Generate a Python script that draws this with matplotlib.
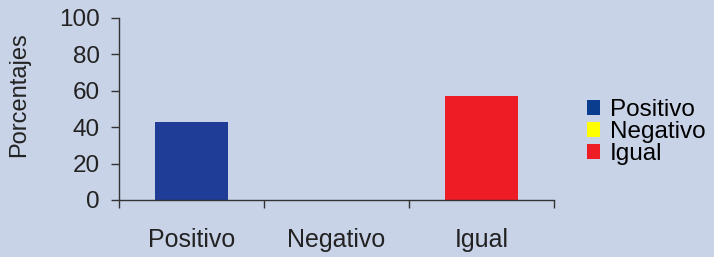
import matplotlib.pyplot as plt
from matplotlib.patches import Patch

# Datos
categorias = ['Positivo', 'Negativo', 'Igual']
valores = [42.9, 0.0, 57.1]
colores = ['#1f3c96', '#ffff00', '#ee1c25']
colores_leyenda = ['#0b3d8f', '#ffff00', '#ee1c25']
yticks = [0, 20, 40, 60, 80, 100]

fondo = '#c9d3e7'
plt.rcParams['font.family'] = ['Liberation Sans', 'DejaVu Sans']

fig = plt.figure(figsize=(7.14, 2.57), dpi=100, facecolor=fondo)
ax = fig.add_axes([0.1667, 0.222, 0.609, 0.708], facecolor=fondo)

x = list(range(len(categorias)))
ax.bar(x, valores, width=0.5, color=colores)

ax.set_xlim(-0.5, len(categorias) - 0.5)
ax.set_ylim(0, 100)
ax.set_yticks(yticks)

# ticks en los límites de categoría, etiquetas en el centro
ax.set_xticks([i - 0.5 for i in range(len(categorias) + 1)])
ax.set_xticklabels([])
ax.set_xticks(x, minor=True)
ax.set_xticklabels(categorias, minor=True)
ax.tick_params(axis='x', which='minor', length=0, pad=20, labelsize=18, labelcolor='#222222')
ax.tick_params(axis='x', which='major', length=6, width=1, color='#333333')
ax.tick_params(axis='y', length=6, width=1, color='#333333', labelsize=17.5, labelcolor='#222222', pad=8)

ax.set_ylabel('Porcentajes', fontsize=17, color='#222222')
ax.yaxis.set_label_coords(-0.205, 0.577)

for lado in ['top', 'right']:
    ax.spines[lado].set_visible(False)
for lado in ['left', 'bottom']:
    ax.spines[lado].set_color('#333333')
    ax.spines[lado].set_linewidth(1)

handles = [Patch(facecolor=c, label=l) for c, l in zip(colores_leyenda, categorias)]
fig.legend(handles=handles, loc='center left', bbox_to_anchor=(0.822, 0.486),
           frameon=False, fontsize=17.5, handlelength=0.55, handleheight=0.55,
           handletextpad=0.4, labelspacing=0.0, borderaxespad=0, borderpad=0)

fig.savefig('out.png', dpi=100, facecolor=fondo)
